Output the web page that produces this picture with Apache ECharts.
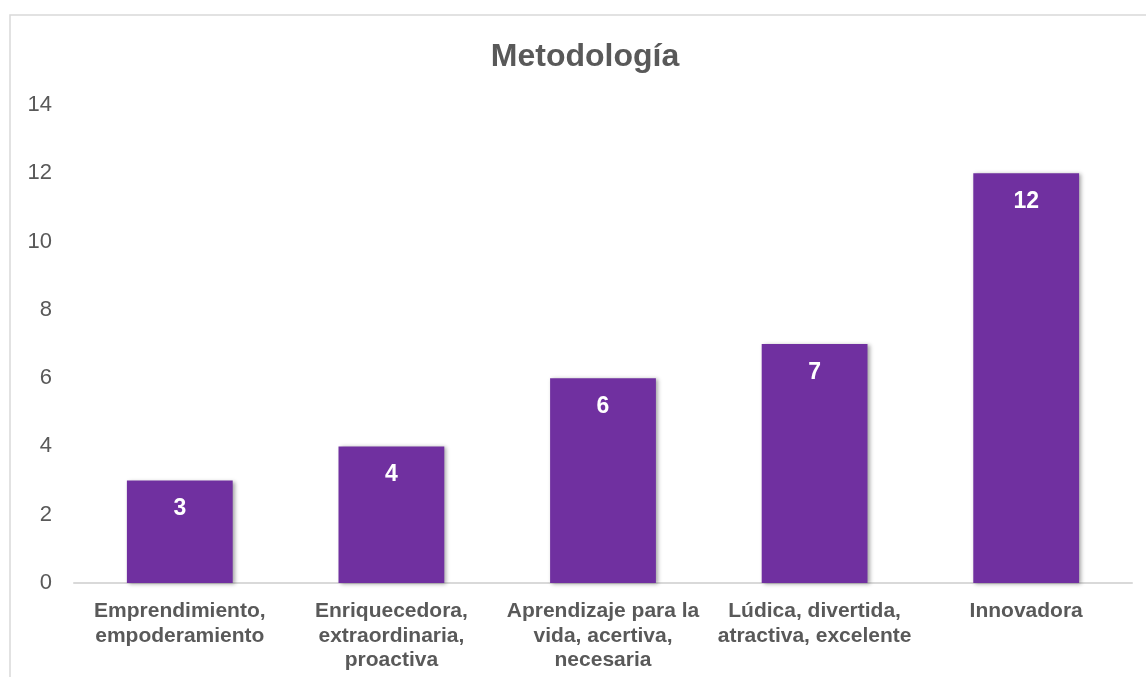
<!DOCTYPE html>
<html>
<head>
<meta charset="utf-8">
<script src="https://cdn.jsdelivr.net/npm/echarts@6/dist/echarts.min.js"></script>
<style>
  html, body { margin: 0; padding: 0; background: #ffffff; }
  #chart { width: 1146px; height: 677px; }
</style>
</head>
<body>
<div id="chart"></div>
<script>
// Methodology perceptions: category names (wrapped as printed) and counts
const categories = [
  'Emprendimiento,\nempoderamiento',
  'Enriquecedora,\nextraordinaria,\nproactiva',
  'Aprendizaje para la\nvida, acertiva,\nnecesaria',
  'Lúdica, divertida,\natractiva, excelente',
  'Innovadora'
];
const counts = [3, 4, 6, 7, 12];
const yTicks = { min: 0, max: 14, interval: 2 };

const textGray = '#595959';
const font = 'Liberation Sans, Arial, sans-serif';

const chart = echarts.init(document.getElementById('chart'), null, { renderer: 'canvas' });
chart.setOption({
  animation: false,
  backgroundColor: '#ffffff',
  graphic: [{
    type: 'rect',
    shape: { x: 10, y: 15, width: 1300, height: 800 },
    style: { fill: 'none', stroke: '#d9d9d9', lineWidth: 1.5 },
    silent: true
  }],
  title: {
    text: 'Metodología',
    left: 580,
    textAlign: 'center',
    top: 36,
    textStyle: { fontFamily: font, fontSize: 32, fontWeight: 'bold', color: textGray }
  },
  grid: { left: 74, right: 14, top: 105, bottom: 94, containLabel: false },
  xAxis: {
    type: 'category',
    data: categories,
    axisLine: { show: true, lineStyle: { color: '#d9d9d9', width: 2 } },
    axisTick: { show: false },
    axisLabel: {
      interval: 0,
      margin: 16,
      fontFamily: font,
      fontSize: 21,
      fontWeight: 'bold',
      color: textGray,
      lineHeight: 24.5,
      align: 'center'
    }
  },
  yAxis: {
    type: 'value',
    min: yTicks.min,
    max: yTicks.max,
    interval: yTicks.interval,
    axisLine: { show: false },
    axisTick: { show: false },
    splitLine: { show: false },
    axisLabel: { margin: 22, fontFamily: font, fontSize: 22, color: textGray }
  },
  series: [{
    type: 'bar',
    data: counts,
    barCategoryGap: '50%',
    itemStyle: {
      color: '#7030A0',
      shadowColor: 'rgba(0,0,0,0.35)',
      shadowBlur: 4,
      shadowOffsetX: 2,
      shadowOffsetY: 1
    },
    label: {
      show: true,
      position: 'insideTop',
      distance: 17,
      fontFamily: font,
      fontSize: 23,
      fontWeight: 'bold',
      color: '#ffffff'
    }
  }]
});
</script>
</body>
</html>
